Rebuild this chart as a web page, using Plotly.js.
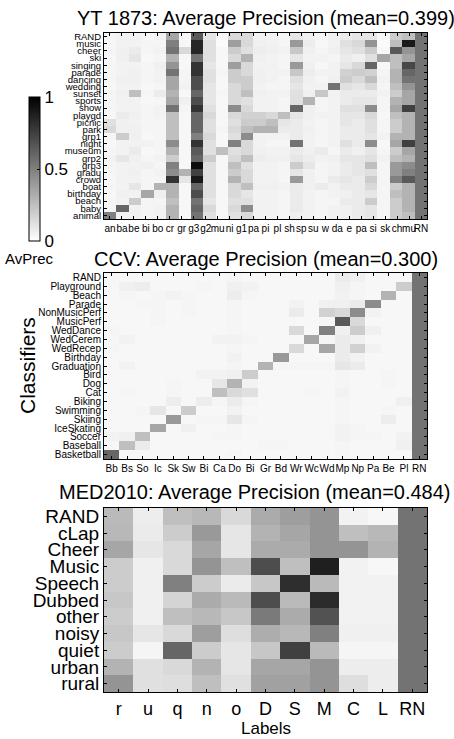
<!DOCTYPE html>
<html>
<head>
<meta charset="utf-8">
<script src="https://cdn.plot.ly/plotly-3.0.1.min.js"></script>
<style>html,body{margin:0;padding:0;background:#fff;}#chart{width:454px;height:739px;}</style>
</head>
<body>
<div id="chart"></div>
<script>
// ---------- YT 1873 ----------
const ytTitle = "YT 1873: Average Precision (mean=0.399)";
const ytRows = ["RAND","music","cheer","ski","singing","parade","dancing","wedding","sunset","sports","show","playgd","picnic","park","grp1","night","museum","grp2","grp3","gradu","crowd","boat","birthday","beach","baby","animal"];
const ytColLabels = ["an","ba","be","bi","bo","cr","gr","g3","g2","mu","ni","g1","pa","pi","pl","sh","sp","su","w","da","e","pa","si","sk","ch","mu","RN"];
const ytZ = [
 [.04,.05,.05,.03,.05,.35,.03,.65,.10,.03,.15,.15,.05,.05,.04,.10,.06,.04,.06,.08,.10,.10,.03,.20,.25,.55],
 [.03,.05,.05,.04,.04,.50,.03,.85,.12,.02,.38,.15,.06,.05,.04,.40,.07,.03,.05,.12,.15,.42,.02,.25,.90,.55],
 [.04,.06,.08,.04,.05,.55,.15,.85,.12,.03,.20,.12,.07,.06,.05,.22,.06,.04,.06,.10,.12,.20,.03,.65,.42,.55],
 [.03,.06,.10,.03,.04,.30,.03,.55,.12,.03,.15,.30,.06,.05,.04,.10,.05,.05,.04,.08,.06,.12,.35,.25,.35,.55],
 [.04,.05,.05,.04,.06,.42,.03,.80,.10,.03,.38,.15,.05,.05,.04,.40,.06,.03,.05,.10,.15,.60,.03,.25,.72,.55],
 [.04,.05,.06,.04,.05,.55,.04,.80,.12,.04,.20,.15,.06,.05,.05,.22,.07,.05,.05,.18,.20,.18,.04,.30,.60,.55],
 [.04,.06,.06,.04,.05,.35,.04,.70,.12,.03,.20,.20,.06,.05,.04,.12,.06,.04,.06,.20,.15,.25,.05,.30,.55,.55],
 [.03,.05,.05,.03,.04,.35,.05,.70,.10,.03,.15,.20,.05,.04,.04,.10,.05,.05,.55,.12,.10,.15,.04,.25,.42,.55],
 [.04,.06,.25,.04,.08,.30,.03,.60,.10,.04,.15,.25,.06,.05,.05,.12,.06,.22,.05,.08,.08,.08,.05,.20,.35,.55],
 [.04,.05,.05,.03,.04,.35,.06,.70,.10,.03,.15,.12,.05,.05,.04,.12,.30,.04,.05,.08,.10,.10,.04,.30,.35,.55],
 [.04,.05,.05,.04,.05,.55,.04,.80,.12,.03,.45,.15,.05,.05,.04,.60,.06,.04,.05,.12,.12,.45,.04,.35,.75,.55],
 [.03,.08,.06,.04,.05,.25,.03,.60,.15,.03,.15,.18,.18,.15,.25,.10,.06,.05,.05,.10,.10,.15,.03,.25,.30,.55],
 [.12,.06,.05,.04,.04,.25,.03,.60,.12,.03,.12,.20,.20,.25,.10,.08,.05,.04,.05,.10,.08,.12,.04,.20,.30,.55],
 [.15,.06,.06,.04,.04,.25,.03,.60,.12,.04,.15,.25,.30,.30,.08,.08,.06,.04,.05,.08,.08,.12,.04,.20,.30,.55],
 [.04,.20,.06,.03,.04,.25,.03,.50,.15,.03,.12,.45,.05,.05,.05,.08,.05,.04,.05,.08,.08,.10,.05,.30,.30,.55],
 [.03,.05,.05,.05,.04,.45,.03,.80,.12,.03,.50,.15,.05,.04,.04,.55,.05,.04,.05,.12,.08,.45,.03,.35,.75,.55],
 [.04,.05,.08,.03,.04,.30,.03,.65,.12,.25,.12,.15,.06,.05,.05,.08,.06,.08,.04,.08,.06,.10,.04,.20,.35,.55],
 [.05,.10,.06,.04,.05,.20,.03,.60,.20,.03,.15,.25,.07,.06,.06,.10,.07,.05,.06,.10,.10,.12,.05,.25,.30,.55],
 [.04,.05,.05,.06,.04,.50,.03,.95,.12,.03,.25,.12,.05,.05,.04,.20,.10,.04,.05,.08,.10,.25,.04,.40,.45,.55],
 [.04,.05,.06,.04,.05,.45,.30,.75,.12,.03,.20,.15,.05,.05,.04,.10,.06,.04,.05,.08,.10,.12,.04,.40,.50,.55],
 [.03,.05,.05,.04,.04,.80,.10,.90,.12,.03,.30,.15,.05,.05,.04,.40,.06,.04,.08,.10,.08,.20,.04,.50,.65,.55],
 [.04,.05,.10,.04,.30,.30,.03,.60,.12,.03,.15,.25,.06,.06,.05,.08,.06,.08,.05,.08,.08,.15,.04,.20,.30,.55],
 [.03,.06,.05,.35,.06,.30,.03,.70,.12,.03,.15,.10,.05,.05,.04,.08,.05,.04,.05,.06,.08,.10,.04,.25,.30,.55],
 [.04,.05,.20,.04,.04,.25,.03,.55,.10,.03,.12,.12,.05,.05,.04,.08,.05,.04,.04,.08,.08,.20,.04,.20,.30,.55],
 [.04,.60,.05,.04,.05,.30,.03,.60,.15,.03,.15,.45,.05,.05,.04,.08,.05,.04,.05,.06,.08,.10,.04,.20,.30,.55],
 [.50,.05,.05,.04,.05,.30,.03,.55,.12,.03,.12,.15,.05,.05,.04,.06,.05,.04,.05,.06,.08,.10,.04,.20,.25,.55]
];

// ---------- CCV ----------
const ccvTitle = "CCV: Average Precision (mean=0.300)";
const ccvRows = ["RAND","Playground","Beach","Parade","NonMusicPerf","MusicPerf","WedDance","WedCerem","WedRecep","Birthday","Graduation","Bird","Dog","Cat","Biking","Swimming","Skiing","IceSkating","Soccer","Baseball","Basketball"];
const ccvCols = ["Bb","Bs","So","Ic","Sk","Sw","Bi","Ca","Do","Bi","Gr","Bd","Wr","Wc","Wd","Mp","Np","Pa","Be","Pl","RN"];
const ccvZ = [
 [.03,.03,.03,.03,.03,.03,.03,.03,.04,.03,.03,.03,.03,.03,.03,.08,.06,.03,.03,.03,.55],
 [.03,.06,.07,.03,.03,.03,.04,.03,.06,.05,.03,.03,.03,.03,.03,.06,.04,.03,.03,.20,.55],
 [.03,.04,.03,.04,.05,.04,.03,.03,.07,.04,.03,.03,.03,.03,.03,.05,.04,.03,.30,.03,.55],
 [.03,.03,.04,.04,.03,.04,.03,.03,.04,.03,.03,.03,.05,.03,.06,.06,.08,.45,.03,.03,.55],
 [.03,.03,.03,.04,.03,.04,.03,.03,.04,.03,.03,.03,.08,.03,.18,.15,.45,.05,.03,.03,.55],
 [.03,.03,.03,.04,.03,.03,.03,.03,.04,.03,.03,.03,.03,.03,.04,.65,.15,.03,.03,.03,.55],
 [.04,.03,.03,.03,.03,.03,.03,.03,.04,.03,.03,.03,.15,.03,.50,.06,.20,.06,.03,.03,.55],
 [.03,.05,.03,.03,.03,.03,.03,.05,.05,.04,.03,.03,.03,.35,.04,.08,.06,.03,.03,.03,.55],
 [.04,.03,.03,.03,.03,.03,.03,.03,.04,.03,.03,.03,.15,.03,.35,.08,.18,.05,.03,.03,.55],
 [.03,.03,.03,.03,.03,.03,.03,.03,.05,.03,.03,.40,.03,.03,.03,.08,.05,.03,.03,.03,.55],
 [.03,.05,.03,.03,.03,.03,.03,.03,.04,.03,.30,.04,.04,.04,.04,.10,.08,.03,.03,.03,.55],
 [.03,.03,.03,.03,.03,.03,.05,.05,.06,.20,.03,.03,.03,.03,.03,.04,.03,.03,.04,.03,.55],
 [.03,.03,.03,.03,.04,.03,.03,.10,.30,.05,.03,.03,.03,.03,.03,.04,.03,.03,.04,.03,.55],
 [.03,.04,.03,.03,.04,.03,.03,.25,.15,.12,.03,.03,.03,.04,.03,.05,.03,.03,.03,.03,.55],
 [.03,.03,.03,.03,.07,.03,.07,.04,.08,.04,.03,.03,.03,.03,.03,.04,.03,.03,.03,.06,.55],
 [.03,.03,.04,.10,.03,.20,.03,.03,.05,.03,.03,.03,.03,.03,.03,.04,.03,.03,.04,.03,.55],
 [.03,.03,.03,.03,.40,.03,.04,.04,.10,.04,.03,.03,.03,.03,.03,.04,.03,.03,.07,.03,.55],
 [.03,.03,.03,.35,.03,.06,.03,.03,.04,.03,.03,.03,.03,.03,.03,.05,.04,.03,.03,.03,.55],
 [.05,.06,.25,.03,.03,.03,.03,.04,.04,.03,.03,.03,.03,.03,.03,.05,.04,.04,.03,.05,.55],
 [.03,.25,.08,.03,.03,.03,.03,.03,.03,.03,.04,.04,.03,.03,.03,.04,.03,.03,.03,.06,.55],
 [.60,.03,.03,.03,.03,.03,.03,.03,.04,.03,.03,.03,.03,.03,.03,.04,.03,.03,.03,.03,.55]
];

// ---------- MED2010 ----------
const medTitle = "MED2010: Average Precision (mean=0.484)";
const medRows = ["RAND","cLap","Cheer","Music","Speech","Dubbed","other","noisy","quiet","urban","rural"];
const medCols = ["r","u","q","n","o","D","S","M","C","L","RN"];
const medZ = [
 [.27,.07,.25,.28,.15,.33,.38,.42,.05,.03,.55],
 [.28,.08,.20,.40,.10,.30,.35,.42,.25,.28,.55],
 [.35,.10,.15,.35,.10,.33,.33,.42,.42,.30,.55],
 [.20,.06,.15,.42,.25,.70,.25,.88,.05,.03,.55],
 [.20,.06,.50,.20,.08,.22,.82,.27,.05,.05,.55],
 [.22,.06,.17,.33,.27,.70,.27,.83,.05,.05,.55],
 [.20,.06,.25,.28,.22,.52,.33,.68,.05,.05,.55],
 [.22,.10,.15,.38,.13,.32,.28,.50,.06,.06,.55],
 [.20,.04,.60,.20,.10,.22,.75,.27,.04,.04,.55],
 [.30,.12,.15,.30,.10,.35,.35,.42,.07,.07,.55],
 [.42,.12,.13,.25,.12,.37,.37,.42,.13,.07,.55]
];

const W = 454, H = 739;
const FONT = "Liberation Sans, Arial, Helvetica, sans-serif";
const grayScale = [[0, "#ffffff"], [1, "#000000"]];
const px = v => v / W;
const py = v => 1 - v / H;

function idx(n) { return Array.from({length: n}, (_, i) => i); }

const axBase = {
  showline: true, linecolor: "black", linewidth: 1, mirror: "ticks",
  ticks: "inside", ticklen: 3, tickcolor: "black", tickwidth: 1,
  showgrid: false, zeroline: false, fixedrange: true
};

// label positions for YT x labels: spread evenly over the plot width
const nYtCols = ytZ[0].length;
const ytXTickVals = ytColLabels.map((_, i) => -0.5 + (i + 0.5) * nYtCols / ytColLabels.length);

const traces = [
  {type: "heatmap", z: ytZ, xaxis: "x", yaxis: "y", colorscale: grayScale, zmin: 0, zmax: 1,
   hoverinfo: "skip",
   colorbar: {x: px(29), xanchor: "left", y: py(169), yanchor: "middle",
              len: 144, lenmode: "pixels", thickness: 11, thicknessmode: "pixels",
              xpad: 0, ypad: 0, outlinewidth: 1, outlinecolor: "black",
              tickvals: [0, 0.5, 1], ticktext: ["0", "0.5", "1"],
              ticks: "inside", ticklen: 3, tickcolor: "black",
              tickfont: {size: 17, color: "black", family: FONT}}},
  {type: "heatmap", z: ccvZ, xaxis: "x2", yaxis: "y2", colorscale: grayScale, zmin: 0, zmax: 1,
   showscale: false, hoverinfo: "skip"},
  {type: "heatmap", z: medZ, xaxis: "x3", yaxis: "y3", colorscale: grayScale, zmin: 0, zmax: 1,
   showscale: false, hoverinfo: "skip"}
];

const xDom = [px(104), px(427)];

const layout = {
  width: W, height: H,
  margin: {l: 0, r: 0, t: 0, b: 0, pad: 0},
  paper_bgcolor: "white", plot_bgcolor: "white",
  font: {family: FONT, color: "black"},
  showlegend: false,
  xaxis: Object.assign({}, axBase, {domain: xDom, anchor: "y", range: [-0.5, nYtCols - 0.5],
    tickmode: "array", tickvals: ytXTickVals, ticktext: ytColLabels, tickangle: 0,
    tickfont: {size: 10}}),
  yaxis: Object.assign({}, axBase, {domain: [py(219), py(33)], anchor: "x",
    range: [ytRows.length - 0.5, -0.5],
    tickmode: "array", tickvals: idx(ytRows.length), ticktext: ytRows,
    tickfont: {size: 9.5}}),
  xaxis2: Object.assign({}, axBase, {domain: xDom, anchor: "y2", range: [-0.5, ccvCols.length - 0.5],
    tickmode: "array", tickvals: idx(ccvCols.length), ticktext: ccvCols, tickangle: 0,
    tickfont: {size: 10}}),
  yaxis2: Object.assign({}, axBase, {domain: [py(459), py(273)], anchor: "x2",
    range: [ccvRows.length - 0.5, -0.5],
    tickmode: "array", tickvals: idx(ccvRows.length), ticktext: ccvRows,
    tickfont: {size: 10}}),
  xaxis3: Object.assign({}, axBase, {domain: xDom, anchor: "y3", range: [-0.5, medCols.length - 0.5],
    tickmode: "array", tickvals: idx(medCols.length), ticktext: medCols, tickangle: 0,
    tickfont: {size: 18}}),
  yaxis3: Object.assign({}, axBase, {domain: [py(692), py(508)], anchor: "x3",
    range: [medRows.length - 0.5, -0.5],
    tickmode: "array", tickvals: idx(medRows.length), ticktext: medRows,
    tickfont: {size: 19}}),
  annotations: [
    {text: ytTitle, xref: "paper", yref: "paper", x: px(265.5), y: py(18), xanchor: "center", yanchor: "middle",
     showarrow: false, font: {size: 20}},
    {text: ccvTitle, xref: "paper", yref: "paper", x: px(266), y: py(259), xanchor: "center", yanchor: "middle",
     showarrow: false, font: {size: 20}},
    {text: medTitle, xref: "paper", yref: "paper", x: px(57), y: py(492), xanchor: "left", yanchor: "middle",
     showarrow: false, font: {size: 20}},
    {text: "AvPrec", xref: "paper", yref: "paper", x: px(29), y: py(258), xanchor: "center", yanchor: "middle",
     showarrow: false, font: {size: 15}},
    {text: "Classifiers", xref: "paper", yref: "paper", x: px(27), y: py(366), xanchor: "center", yanchor: "middle",
     textangle: -90, showarrow: false, font: {size: 21}},
    {text: "Labels", xref: "paper", yref: "paper", x: px(265.5), y: py(728), xanchor: "center", yanchor: "middle",
     showarrow: false, font: {size: 17}}
  ]
};

Plotly.newPlot("chart", traces, layout, {staticPlot: true, displayModeBar: false});
</script>
</body>
</html>
